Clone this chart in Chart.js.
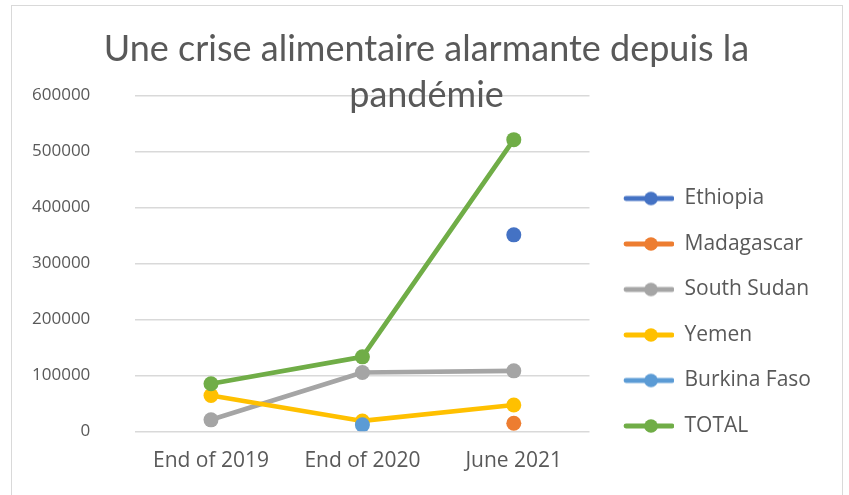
<!DOCTYPE html>
<html>
<head>
<meta charset="utf-8">
<script src="https://cdn.jsdelivr.net/npm/chart.js@4/dist/chart.umd.min.js"></script>
<style>
  html, body { margin: 0; padding: 0; background: #ffffff; overflow: hidden; }
  #frame {
    position: absolute; left: 11px; top: 5px;
    width: 830px; height: 500px;
    border: 1px solid #d9d9d9; background: #ffffff;
  }
</style>
</head>
<body>
<div id="frame"><canvas id="chart" width="830" height="500"></canvas></div>
<script>
// values
var categories = ['End of 2019', 'End of 2020', 'June 2021'];
var ethiopia = [null, null, 351000];
var madagascar = [null, null, 14500];
var southSudan = [20500, 105000, 108000];
var yemen = [64000, 18500, 47000];
var burkinaFaso = [null, 11500, null];
var total = [85000, 133000, 521000];

var seriesNames = ['Ethiopia', 'Madagascar', 'South Sudan', 'Yemen', 'Burkina Faso', 'TOTAL'];
var seriesValues = [ethiopia, madagascar, southSudan, yemen, burkinaFaso, total];
var seriesColors = ['#4472c4', '#ed7d31', '#a5a5a5', '#ffc000', '#5b9bd5', '#70ad47'];

var textColor = '#595959';
var gridColor = '#d9d9d9';
var legendOffsetY = -13; // excel puts the legend a bit above the bottom

// small line + dot marker for the legend, like the Excel one
function legendMarker(color) {
  var c = document.createElement('canvas');
  c.width = 60;
  c.height = 16;
  var g = c.getContext('2d');
  g.strokeStyle = color;
  g.lineWidth = 4.8;
  g.lineCap = 'round';
  g.beginPath();
  g.moveTo(12, 8);
  g.lineTo(58, 8);
  g.stroke();
  g.fillStyle = color;
  g.beginPath();
  g.arc(37, 8, 6.8, 0, Math.PI * 2);
  g.fill();
  return c;
}

var legendShift = {
  id: 'legendShift',
  afterLayout: function (chart) {
    var lg = chart.legend;
    if (lg) {
      lg.top += legendOffsetY;
      lg.bottom += legendOffsetY;
    }
  }
};

function build() {
  var datasets = [];
  for (var i = 0; i < seriesNames.length; i++) {
    datasets.push({
      label: seriesNames[i],
      data: seriesValues[i],
      borderColor: seriesColors[i],
      backgroundColor: seriesColors[i],
      pointBackgroundColor: seriesColors[i],
      pointBorderWidth: 0,
      pointRadius: 7.5,
      pointHoverRadius: 7.5,
      borderWidth: 4.7,
      borderCapStyle: 'round',
      borderJoinStyle: 'round',
      tension: 0,
      spanGaps: false,
      order: seriesNames.length - i
    });
  }

  var ctx = document.getElementById('chart');
  new Chart(ctx, {
    type: 'line',
    data: { labels: categories, datasets: datasets },
    plugins: [legendShift],
    options: {
      responsive: false,
      animation: false,
      layout: { padding: { left: 20, right: 21, top: 0, bottom: 32 } },
      plugins: {
        tooltip: { enabled: false },
        title: {
          display: true,
          text: ['Une crise alimentaire alarmante depuis la', 'pandémie'],
          color: textColor,
          font: { family: 'Lato', size: 36, weight: 'normal', lineHeight: 1.27 },
          padding: { top: 20.5, bottom: -22.5 }
        },
        legend: {
          position: 'right',
          align: 'end',
          maxWidth: 260,
          labels: {
            color: textColor,
            font: { family: 'Open Sans', size: 21 },
            usePointStyle: true,
            pointStyleWidth: 60,
            padding: 24.5,
            sort: function (a, b) { return a.datasetIndex - b.datasetIndex; },
            generateLabels: function (chart) {
              var items = Chart.defaults.plugins.legend.labels.generateLabels(chart);
              items.forEach(function (it) {
                it.pointStyle = legendMarker(seriesColors[it.datasetIndex]);
              });
              return items;
            }
          }
        }
      },
      scales: {
        x: {
          offset: true,
          grid: { display: false, drawTicks: false },
          border: { display: false },
          ticks: {
            color: textColor,
            font: { family: 'Open Sans', size: 21 },
            padding: 17.5,
            maxRotation: 0,
            autoSkip: false
          },
          afterFit: function (scale) { scale.height -= scale.options.ticks.padding; }
        },
        y: {
          min: 0,
          max: 600000,
          grid: { color: gridColor, lineWidth: 1.5, drawTicks: false },
          border: { display: false },
          ticks: {
            stepSize: 100000,
            color: textColor,
            font: { family: 'Open Sans', size: 17 },
            padding: 45,
            callback: function (v) { return String(v); }
          },
          afterFit: function (scale) { scale.width -= scale.options.ticks.padding; }
        }
      }
    }
  });
}

if (document.fonts && document.fonts.load) {
  Promise.all([
    document.fonts.load('21px "Open Sans"'),
    document.fonts.load('36px Lato')
  ]).then(build, build);
} else {
  build();
}
</script>
</body>
</html>
